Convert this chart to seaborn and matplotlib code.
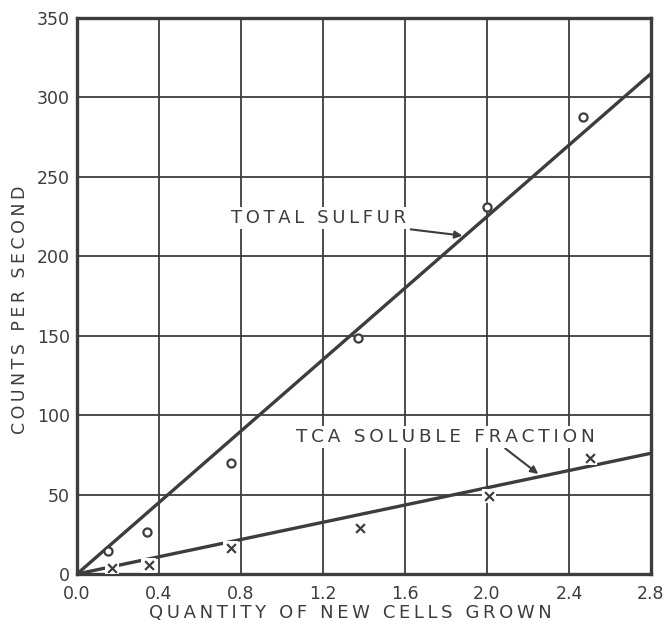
import numpy as np
import pandas as pd
import matplotlib
matplotlib.use("Agg")
import matplotlib.pyplot as plt
import seaborn as sns

# Measured points: total sulfur (circles) and TCA soluble fraction (crosses)
total_x = [0.15, 0.34, 0.75, 1.37, 2.00, 2.47]
total_y = [14.5, 26.5, 70, 148.5, 231, 287.5]
tca_x = [0.17, 0.35, 0.75, 1.38, 2.01, 2.50]
tca_y = [4, 5.5, 16.5, 29, 49, 73]

# Fitted straight lines through the origin
fit_x = [0.0, 2.8]
total_fit = [0.0, 315]
tca_fit = [0.0, 76]

x_ticks = [0.0, 0.4, 0.8, 1.2, 1.6, 2.0, 2.4, 2.8]
x_tick_labels = ["0.0", "0.4", "0.8", "1.2", "1.6", "2.0", "2.4", "2.8"]
y_ticks = [0, 50, 100, 150, 200, 250, 300, 350]

INK = "#3d3d3d"


def spaced(text, gap="\u2009"):
    """Open up the letter spacing the way hand lettering does."""
    return gap.join(text)


sns.set_theme(style="white")
plt.rcParams["font.family"] = ["DejaVu Sans"]

fig = plt.figure(figsize=(6.68, 6.23), dpi=100)
ax = fig.add_axes([77 / 668, 1 - 574 / 623, (651 - 77) / 668, (574 - 18) / 623])

fits = pd.DataFrame({"x": fit_x * 2,
                     "y": total_fit + tca_fit,
                     "series": ["total"] * 2 + ["tca"] * 2})
sns.lineplot(data=fits, x="x", y="y", units="series", estimator=None,
             color=INK, lw=2.4, ax=ax, zorder=3)

pts_total = pd.DataFrame({"x": total_x, "y": total_y})
pts_tca = pd.DataFrame({"x": tca_x, "y": tca_y})

# white patches behind the crosses break the fitted line around each mark
sns.scatterplot(data=pts_tca, x="x", y="y", marker="s", s=110, color="white",
                edgecolor="none", ax=ax, zorder=4)
sns.scatterplot(data=pts_total, x="x", y="y", marker="o", s=34,
                facecolor="white", edgecolor=INK, linewidth=1.6, ax=ax, zorder=5)
sns.scatterplot(data=pts_tca, x="x", y="y", marker="x", s=40,
                color=INK, linewidth=1.6, ax=ax, zorder=5)

ax.set_xlim(0, 2.8)
ax.set_ylim(0, 350)
ax.set_xticks(x_ticks)
ax.set_xticklabels(x_tick_labels)
ax.set_yticks(y_ticks)
ax.grid(True, color=INK, lw=1.3)
ax.set_axisbelow(True)
for s in ax.spines.values():
    s.set_color(INK)
    s.set_linewidth(2.4)
ax.tick_params(length=0, labelsize=12.5, labelcolor=INK)
ax.tick_params(axis="x", pad=8)
ax.tick_params(axis="y", pad=5)

ax.set_xlabel(spaced("QUANTITY OF NEW CELLS GROWN"), fontsize=13, color=INK,
              labelpad=1)
ax.set_ylabel(spaced("COUNTS PER SECOND"), fontsize=12.5, color=INK, labelpad=6)
ax.xaxis.label.set_x(0.476)
ax.yaxis.label.set_y(0.475)

box = dict(facecolor="white", edgecolor="none", pad=1.5)
ax.annotate(spaced("TOTAL SULFUR"), xy=(1.88, 213), xytext=(0.75, 224),
            fontsize=13, color=INK, va="center", ha="left", bbox=box, zorder=6,
            arrowprops=dict(arrowstyle="-|>", color=INK, lw=1.5,
                            mutation_scale=11, shrinkA=2, shrinkB=0))
ax.annotate(spaced("TCA SOLUBLE FRACTION"), xy=(2.25, 63), xytext=(1.07, 86),
            fontsize=13.3, color=INK, va="center", ha="left", bbox=box, zorder=6,
            arrowprops=dict(arrowstyle="-|>", color=INK, lw=1.5,
                            mutation_scale=11, shrinkA=0, shrinkB=0,
                            relpos=(0.69, 0.0)))

fig.savefig("out.png", dpi=100, facecolor="white")
